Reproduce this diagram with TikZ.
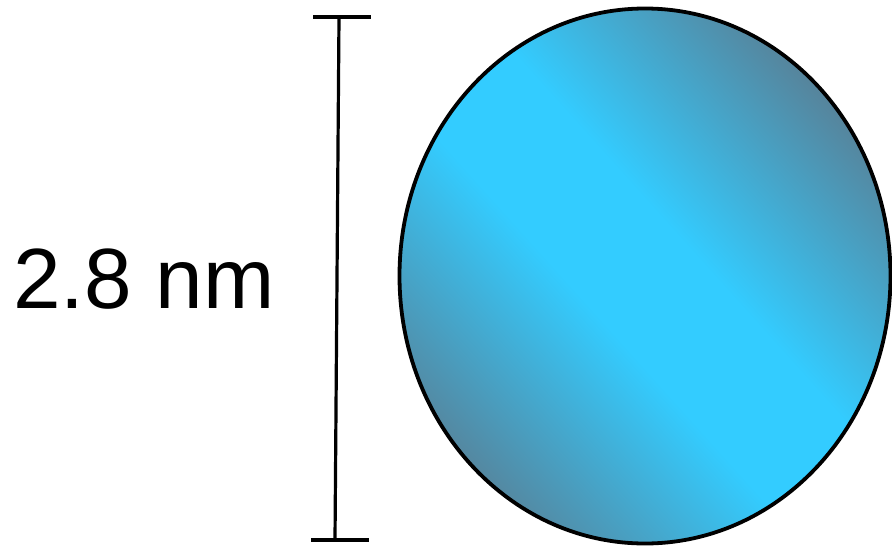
\documentclass[tikz,border=0pt]{standalone}
\usepackage{fontspec}
\setmainfont{Liberation Sans}
\usetikzlibrary{shapes.geometric}
\definecolor{poreblue}{RGB}{51,204,255}
\definecolor{poredark}{RGB}{88,128,150}
\pgfdeclareverticalshading{poreshade}{100bp}{color(0bp)=(poredark); color(24bp)=(poredark);
  color(45bp)=(poreblue); color(56bp)=(poreblue); color(77bp)=(poredark); color(100bp)=(poredark)}

\begin{document}
\begin{tikzpicture}[
    x=1pt, y=-1pt,
    pore/.style={ellipse, draw, line width=3.8pt, inner sep=0pt, minimum width=491pt, minimum height=535pt,
                 shading=poreshade, shading angle=132},
    dimbar/.style={line width=3.2pt},
    sizelabel/.style={anchor=base west, inner sep=0pt, font=\fontsize{85.5}{100}\selectfont}
]
\useasboundingbox (0,0) rectangle (892,546);

\node[pore] (particle) at (645,276) {};

% scale bar
\coordinate (bartop) at (339,17);
\coordinate (barbot) at (335,540);
\draw[dimbar] (bartop) -- (barbot);
\draw[dimbar] ([xshift=-26pt]bartop) -- ([xshift=32pt]bartop);
\draw[dimbar] ([xshift=-24pt]barbot) -- ([xshift=34pt]barbot);

\node[sizelabel] (size) at (13,308) {2.8 nm};
\end{tikzpicture}
\end{document}
